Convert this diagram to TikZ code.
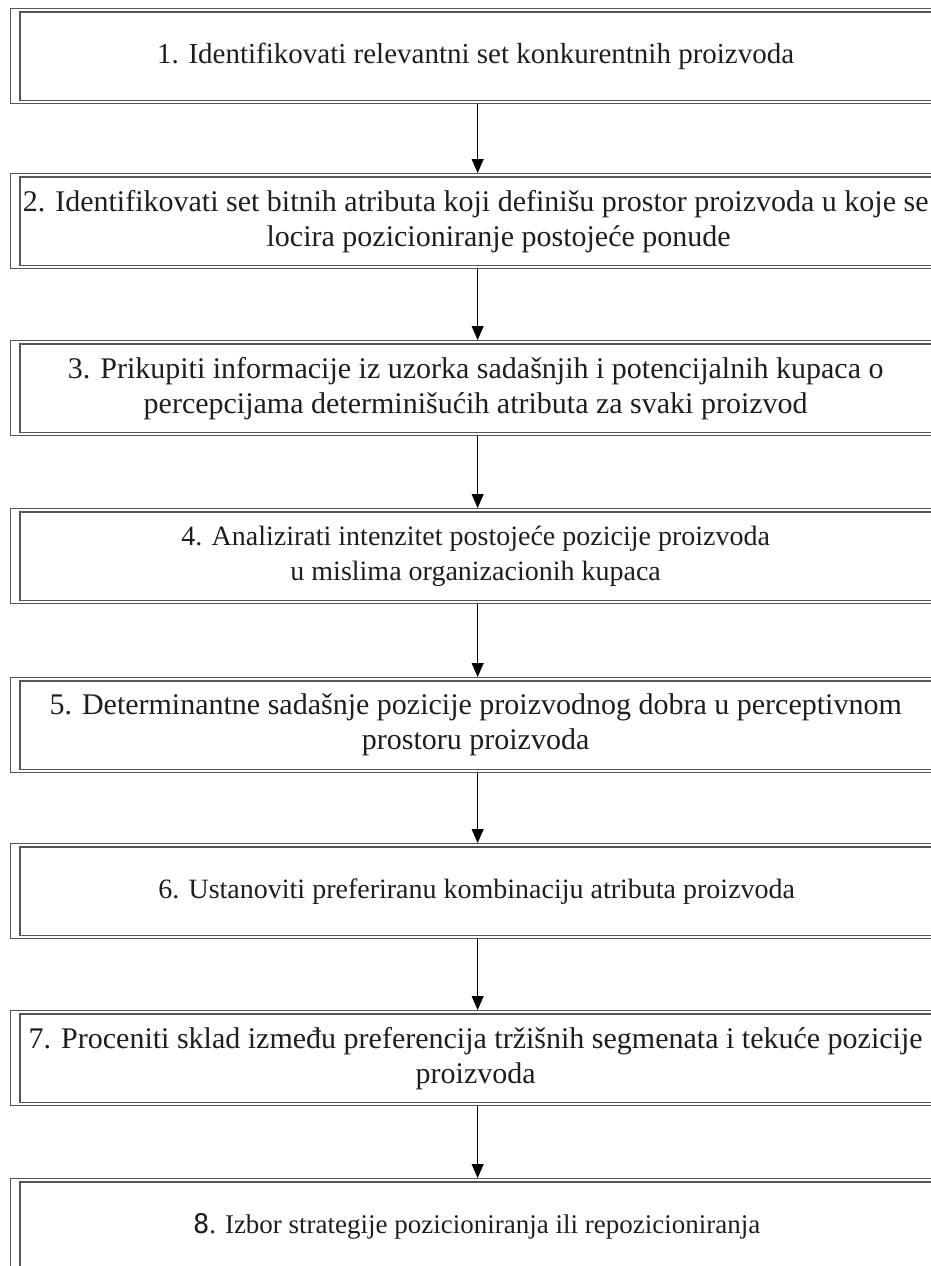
\documentclass[tikz,border=0pt]{standalone}
\usepackage{fontspec}
\setmainfont{Liberation Serif}
\newfontfamily\digitfont{DejaVu Sans Mono}
\usetikzlibrary{arrows.meta}
\definecolor{framegray}{RGB}{85,85,85}
\definecolor{inkblack}{RGB}{30,30,30}
\newcommand{\stepsize}[1]{\fontsize{#1}{35}\selectfont}
\begin{document}
\begin{tikzpicture}[x=1pt,y=-1pt,
  stepbox/.style={draw=framegray, line width=1.3pt, rectangle, anchor=north west,
    minimum width=940pt, minimum height=95pt, inner sep=0pt},
  steptext/.style={inner sep=0pt, align=center, text=inkblack, font=\stepsize{30}},
  innerframe/.style={draw=framegray, line width=1.3pt},
  flow/.style={draw=black, line width=0.9pt, -{Triangle[width=12pt,length=14pt]}}]
\useasboundingbox (0,0) rectangle (931,1266);
\clip (0,0) rectangle (931,1266);
% frames of the process steps
\node[stepbox] (b1) at (10,8) {};
\node[stepbox] (b2) at (10,173) {};
\node[stepbox] (b3) at (10,340) {};
\node[stepbox] (b4) at (10,508) {};
\node[stepbox] (b5) at (10,677) {};
\node[stepbox] (b6) at (10,843) {};
\node[stepbox] (b7) at (10,1010) {};
\node[stepbox] (b8) at (10,1178) {};
% inner rule of each double frame
\foreach \b in {b1,b2,b3,b4,b5,b6,b7,b8}
  \draw[innerframe] ([xshift=10pt,yshift=-4pt]\b.north west) rectangle ([xshift=-10pt,yshift=4pt]\b.south east);
% step texts
\node[steptext, font=\stepsize{29}] (t1) at ([xshift=-5pt]b1.center) {1. Identifikovati relevantni set konkurentnih proizvoda};
\node[steptext] (t2) at ([xshift=-5pt]b2.center) {2. Identifikovati set bitnih atributa koji definišu prostor proizvoda u koje se\\ \hspace*{46pt}locira pozicioniranje postojeće ponude};
\node[steptext] (t3) at ([xshift=-5pt]b3.center) {3. Prikupiti informacije iz uzorka sadašnjih i potencijalnih kupaca o\\ percepcijama determinišućih atributa za svaki proizvod};
\node[steptext, font=\stepsize{28}] (t4) at ([xshift=-5pt]b4.center) {4. Analizirati intenzitet postojeće pozicije proizvoda\\ u mislima organizacionih kupaca};
\node[steptext] (t5) at ([xshift=-5pt]b5.center) {5. Determinantne sadašnje pozicije proizvodnog dobra u perceptivnom\\ prostoru proizvoda};
\node[steptext, font=\stepsize{28}] (t6) at ([xshift=-4pt]b6.center) {6. Ustanoviti preferiranu kombinaciju atributa proizvoda};
\node[steptext] (t7) at ([xshift=-5pt]b7.center) {7. Proceniti sklad između preferencija tržišnih segmenata i tekuće pozicije\\ proizvoda};
\node[steptext, font=\stepsize{27}] (t8) at ([xshift=-4pt]b8.center) {{\digitfont 8}. Izbor strategije pozicioniranja ili repozicioniranja};
% connectors
\foreach \a/\b in {b1/b2,b2/b3,b3/b4,b4/b5,b5/b6,b6/b7,b7/b8}
  \draw[flow] ([xshift=-3pt]\a.south) -- ([xshift=-3pt]\b.north);
\end{tikzpicture}
\end{document}
